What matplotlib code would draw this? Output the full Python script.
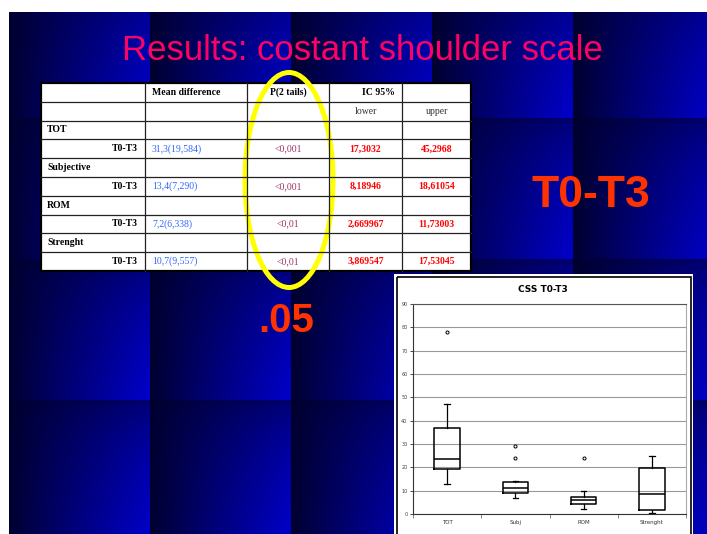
import numpy as np
import matplotlib
matplotlib.use('Agg')
import matplotlib.pyplot as plt
from matplotlib.patches import Rectangle, Ellipse

# table content
header1 = ['', 'Mean difference', 'P(2 tails)', 'IC 95%', '']
header2 = ['', '', '', 'lower', 'upper']
groups = ['TOT', 'Subjective', 'ROM', 'Strenght']
comparison = 'T0-T3'
mean_diff = ['31,3(19,584)', '13,4(7,290)', '7,2(6,338)', '10,7(9,557)']
p_values = ['<0,001', '<0,001', '<0,01', '<0,01']
ci_lower = ['17,3032', '8,18946', '2,669967', '3,869547']
ci_upper = ['45,2968', '18,61054', '11,73003', '17,53045']

# boxplot content
box_labels = ['TOT', 'Subj', 'ROM', 'Strenght']
whislo = [13, 7, 2, 0.4]
q1 = [19.2, 8.9, 4.3, 1.6]
med = [23.6, 11.3, 5.9, 8.7]
q3 = [37, 13.6, 7.5, 19.7]
whishi = [47, 14.2, 10, 25]
fliers = [[78], [24, 29], [24], []]

W, H = 707, 534
fig = plt.figure(figsize=(W / 100, H / 100), dpi=100)

# slide background: tiled blue gradients
yy, xx = np.mgrid[0:H, 0:W]
tx = ((xx - 9) % 141) / 141.0
ty = ((yy + 23) % 141) / 141.0
b = tx ** 0.9 * (0.35 + 0.65 * np.sqrt(ty))
bg = np.zeros((H, W, 3))
bg[..., 2] = 0.18 + (0.80 - 0.18) * b
bg[:12, :, :] = 1
bg[:, :9, :] = 1

ax = fig.add_axes([0, 0, 1, 1])
ax.imshow(bg, extent=(0, W, H, 0), aspect='auto', interpolation='nearest')
ax.set_xlim(0, W)
ax.set_ylim(H, 0)
ax.axis('off')

sans = 'Liberation Sans'
serif = 'Liberation Serif'

ax.text(362, 60.5, 'Results: costant shoulder scale', ha='center', va='baseline',
        fontsize=25, color='#FF0066', family=sans)

# table
col_x = [41, 145, 247, 329, 402, 471]
row_y = [83 + i * 18.8 for i in range(11)]
ax.add_patch(Rectangle((col_x[0], row_y[0]), col_x[-1] - col_x[0], row_y[-1] - row_y[0],
                       facecolor='white', edgecolor='none'))
for yv in row_y[1:-1]:
    ax.plot([col_x[0], col_x[-1]], [yv, yv], color='#222222', lw=0.9)
for xv in col_x[1:-1]:
    ax.plot([xv, xv], [row_y[0], row_y[-1]], color='#222222', lw=0.9)
ax.add_patch(Rectangle((col_x[0], row_y[0]), col_x[-1] - col_x[0], row_y[-1] - row_y[0],
                       facecolor='none', edgecolor='black', lw=1.6))

fs = 7


def cell_y(r):
    return (row_y[r] + row_y[r + 1]) / 2


ax.text(152, cell_y(0), header1[1], ha='left', va='center', fontsize=fs,
        fontweight='bold', family=serif)
ax.text(288, cell_y(0), header1[2], ha='center', va='center', fontsize=fs,
        fontweight='bold', family=serif)
ax.text(395, cell_y(0), header1[3], ha='right', va='center', fontsize=fs,
        fontweight='bold', family=serif)
ax.text(365.5, cell_y(1), header2[3], ha='center', va='center', fontsize=fs,
        color='#333333', family=serif)
ax.text(436.5, cell_y(1), header2[4], ha='center', va='center', fontsize=fs,
        color='#333333', family=serif)

for i, g in enumerate(groups):
    rg = 2 + 2 * i
    rv = rg + 1
    ax.text(47, cell_y(rg), g, ha='left', va='center', fontsize=fs,
            fontweight='bold', family=serif)
    ax.text(138, cell_y(rv), comparison, ha='right', va='center', fontsize=fs,
            fontweight='bold', family=serif)
    ax.text(152, cell_y(rv), mean_diff[i], ha='left', va='center', fontsize=fs,
            color='#3366FF', family=serif)
    ax.text(288, cell_y(rv), p_values[i], ha='center', va='center', fontsize=fs,
            color='#993366', family=serif)
    ax.text(365.5, cell_y(rv), ci_lower[i], ha='center', va='center', fontsize=fs,
            color='#FF0000', fontweight='bold', family=serif)
    ax.text(436.5, cell_y(rv), ci_upper[i], ha='center', va='center', fontsize=fs,
            color='#FF0000', fontweight='bold', family=serif)

ax.add_patch(Ellipse((289, 180), 88, 215, facecolor='none', edgecolor='#FFFF00', lw=3.6))

ax.text(591, 207, 'T0-T3', ha='center', va='baseline', fontsize=32,
        fontweight='bold', color='#FF3300', family=sans)
ax.text(286, 332, '.05', ha='center', va='baseline', fontsize=29,
        fontweight='bold', color='#FF3300', family=sans)

# chart panel
ax.add_patch(Rectangle((394, 274), 299, 270, facecolor='white', edgecolor='none'))
ax.add_patch(Rectangle((397, 277), 294, 270, facecolor='none', edgecolor='black', lw=1.2))
ax.text(543, 289, 'CSS T0-T3', ha='center', va='center', fontsize=6.5,
        fontweight='bold', family='DejaVu Sans')

ax2 = fig.add_axes([413 / W, 1 - 514 / H, (686 - 413) / W, (514 - 304) / H])
stats = []
for i in range(len(box_labels)):
    stats.append(dict(label=box_labels[i], whislo=whislo[i], q1=q1[i], med=med[i],
                      q3=q3[i], whishi=whishi[i], fliers=fliers[i]))
ax2.bxp(stats, widths=0.37, capwidths=0.08,
        boxprops=dict(color='black', lw=1.1),
        medianprops=dict(color='black', lw=1.1),
        whiskerprops=dict(color='black', lw=0.9),
        capprops=dict(color='black', lw=0.9),
        flierprops=dict(marker='o', markersize=2.2, markerfacecolor='white',
                        markeredgecolor='black', markeredgewidth=0.7))
ax2.set_facecolor('white')
ax2.set_xlim(0.5, 4.5)
ax2.set_ylim(0, 90)
ax2.set_yticks(range(0, 91, 10))
ax2.yaxis.grid(True, color='#999999', lw=0.8)
ax2.set_axisbelow(True)
ax2.tick_params(axis='y', labelsize=3.5, labelcolor='#444444', length=2, width=0.5, pad=2)
ax2.tick_params(axis='x', which='major', labelsize=4, labelcolor='#333333', length=0, pad=4)
ax2.set_xticks([0.5, 1.5, 2.5, 3.5, 4.5], minor=True)
ax2.tick_params(axis='x', which='minor', length=3, width=0.5, color='#555555')
ax2.spines['left'].set_color('#333333')
ax2.spines['bottom'].set_color('#333333')
ax2.spines['top'].set_color('#555555')
ax2.spines['right'].set_color('#aaaaaa')
for s in ax2.spines.values():
    s.set_linewidth(0.8)

fig.savefig('out.png', dpi=100)
